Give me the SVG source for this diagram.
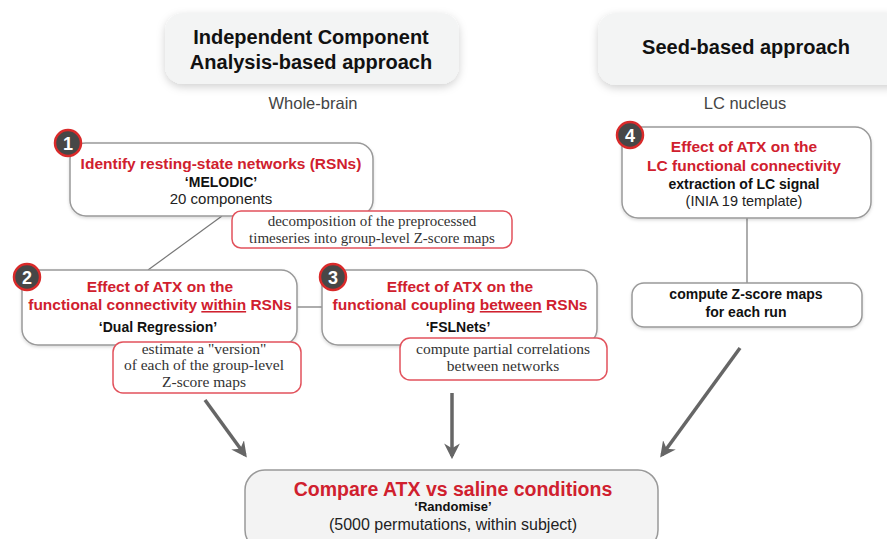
<svg xmlns="http://www.w3.org/2000/svg" width="887" height="539" viewBox="0 0 887 539">
<style>
.sans{font-family:"Liberation Sans",Arial,sans-serif}
.serif{font-family:"Liberation Serif","Times New Roman",serif;fill:#333;font-size:15.5px}
.title{font-family:"Liberation Sans",Arial,sans-serif;font-weight:bold;font-size:20px;fill:#111}
.sub{font-family:"Liberation Sans",Arial,sans-serif;font-size:16.5px;fill:#444}
.red{font-family:"Liberation Sans",Arial,sans-serif;font-weight:bold;font-size:15.5px;fill:#d0202e}
.blk{font-family:"Liberation Sans",Arial,sans-serif;font-weight:bold;font-size:14px;fill:#111}
.reg{font-family:"Liberation Sans",Arial,sans-serif;font-size:15px;fill:#222}
.box{fill:#fff;stroke:#999;stroke-width:1.5}
.ann{fill:#fff;stroke:#e2525c;stroke-width:1.5}
.tbox{fill:#f3f4f4;stroke:none}
.badge{fill:#474747;stroke:#d92a2a;stroke-width:2.5}
.bnum{font-family:"Liberation Sans",Arial,sans-serif;font-weight:bold;font-size:18px;fill:#fff}
.thin{stroke:#777;stroke-width:1.2;fill:none}
.arr{stroke:#666;stroke-width:3.5;fill:none}
</style>
<defs>
<filter id="sh" x="-10%" y="-20%" width="130%" height="150%">
<feDropShadow dx="0" dy="3" stdDeviation="4" flood-color="#000" flood-opacity="0.18"/>
</filter>
<filter id="sh2" x="-10%" y="-20%" width="130%" height="150%">
<feDropShadow dx="0" dy="1.5" stdDeviation="1.5" flood-color="#000" flood-opacity="0.15"/>
</filter>
<marker id="ah" viewBox="0 0 10 10" refX="8" refY="5" markerWidth="4.5" markerHeight="4.5" orient="auto" markerUnits="strokeWidth">
<path d="M0,0 L10,5 L0,10 L3,5 z" fill="#666"/>
</marker>
</defs>
<rect width="887" height="539" fill="#fff"/>

<g id="title-ica">
<rect class="tbox" x="165" y="13" width="294" height="71" rx="18" filter="url(#sh)"/>
<text class="title" x="311" y="44" text-anchor="middle">Independent Component</text>
<text class="title" x="311" y="69" text-anchor="middle">Analysis-based approach</text>
<text class="sub" x="313" y="109" text-anchor="middle">Whole-brain</text>
</g>

<g id="title-seed">
<rect class="tbox" x="598" y="13" width="310" height="72" rx="18" filter="url(#sh)"/>
<text class="title" x="746" y="54" text-anchor="middle">Seed-based approach</text>
<text class="sub" x="745" y="109" text-anchor="middle">LC nucleus</text>
</g>

<g id="connectors">
<line class="thin" x1="222" y1="216" x2="148" y2="270"/>
<line class="thin" x1="297" y1="307" x2="322" y2="307"/>
<line class="thin" x1="747" y1="218" x2="747" y2="283"/>
<line class="arr" x1="205" y1="400" x2="245" y2="455" marker-end="url(#ah)"/>
<line class="arr" x1="452" y1="393" x2="452" y2="456" marker-end="url(#ah)"/>
<line class="arr" x1="740" y1="348" x2="662" y2="455" marker-end="url(#ah)"/>
</g>

<g id="node1">
<rect class="box" x="70" y="143" width="303" height="73" rx="16" filter="url(#sh2)"/>
<text class="red" x="221" y="169" text-anchor="middle">Identify resting-state networks (RSNs)</text>
<text class="blk" x="221" y="187" text-anchor="middle">‘MELODIC’</text>
<text class="reg" x="221" y="204" text-anchor="middle">20 components</text>
<circle class="badge" cx="68" cy="143" r="13"/>
<text class="bnum" x="68" y="149.5" text-anchor="middle">1</text>
</g>

<g id="ann1">
<rect class="ann" x="232" y="211" width="280" height="37" rx="9"/>
<text class="serif" x="372" y="226" text-anchor="middle" style="font-size:15px">decomposition of the preprocessed</text>
<text class="serif" x="372" y="243" text-anchor="middle" style="font-size:15px">timeseries into group-level Z-score maps</text>
</g>

<g id="node2">
<rect class="box" x="22" y="270" width="275" height="75" rx="16" filter="url(#sh2)"/>
<text class="red" x="160" y="292" text-anchor="middle">Effect of ATX on the</text>
<text class="red" x="160" y="310" text-anchor="middle">functional connectivity <tspan text-decoration="underline">within</tspan> RSNs</text>
<text class="blk" x="158" y="332" text-anchor="middle">‘Dual Regression’</text>
<circle class="badge" cx="27" cy="277" r="13"/>
<text class="bnum" x="27" y="283.5" text-anchor="middle">2</text>
</g>

<g id="ann2">
<rect class="ann" x="113" y="342" width="188" height="51" rx="10"/>
<text class="serif" x="204" y="354" text-anchor="middle">estimate a "version"</text>
<text class="serif" x="204" y="370" text-anchor="middle">of each of the group-level</text>
<text class="serif" x="204" y="387" text-anchor="middle">Z-score maps</text>
</g>

<g id="node3">
<rect class="box" x="322" y="270" width="275" height="75" rx="16" filter="url(#sh2)"/>
<text class="red" x="460" y="292" text-anchor="middle">Effect of ATX on the</text>
<text class="red" x="460" y="310" text-anchor="middle">functional coupling <tspan text-decoration="underline">between</tspan> RSNs</text>
<text class="blk" x="458" y="332" text-anchor="middle">‘FSLNets’</text>
<circle class="badge" cx="333" cy="277" r="13"/>
<text class="bnum" x="333" y="283.5" text-anchor="middle">3</text>
</g>

<g id="ann3">
<rect class="ann" x="400" y="338" width="207" height="42" rx="10"/>
<text class="serif" x="503" y="354" text-anchor="middle">compute partial correlations</text>
<text class="serif" x="503" y="371" text-anchor="middle">between networks</text>
</g>

<g id="node4">
<rect class="box" x="622" y="127" width="249" height="91" rx="16" filter="url(#sh2)"/>
<text class="red" x="744" y="152" text-anchor="middle">Effect of ATX on the</text>
<text class="red" x="744" y="171" text-anchor="middle">LC functional connectivity</text>
<text class="blk" x="744" y="189" text-anchor="middle">extraction of LC signal</text>
<text class="reg" x="744" y="206" text-anchor="middle" style="font-size:14.5px">(INIA 19 template)</text>
<circle class="badge" cx="630" cy="135" r="13"/>
<text class="bnum" x="630" y="141.5" text-anchor="middle">4</text>
</g>

<g id="node5">
<rect class="box" x="632" y="283" width="230" height="44" rx="12" filter="url(#sh2)"/>
<text class="blk" x="746" y="299" text-anchor="middle">compute Z-score maps</text>
<text class="blk" x="746" y="317" text-anchor="middle">for each run</text>
</g>

<g id="node6">
<rect x="245" y="470" width="413" height="80" rx="20" fill="#f3f3f3" stroke="#999" stroke-width="1.5"/>
<text class="red" x="453" y="496" text-anchor="middle" style="font-size:19.5px">Compare ATX vs saline conditions</text>
<text class="blk" x="453" y="511" text-anchor="middle" style="font-size:13px">‘Randomise’</text>
<text class="reg" x="453" y="530" text-anchor="middle" style="font-size:16px">(5000 permutations, within subject)</text>
</g>
</svg>
